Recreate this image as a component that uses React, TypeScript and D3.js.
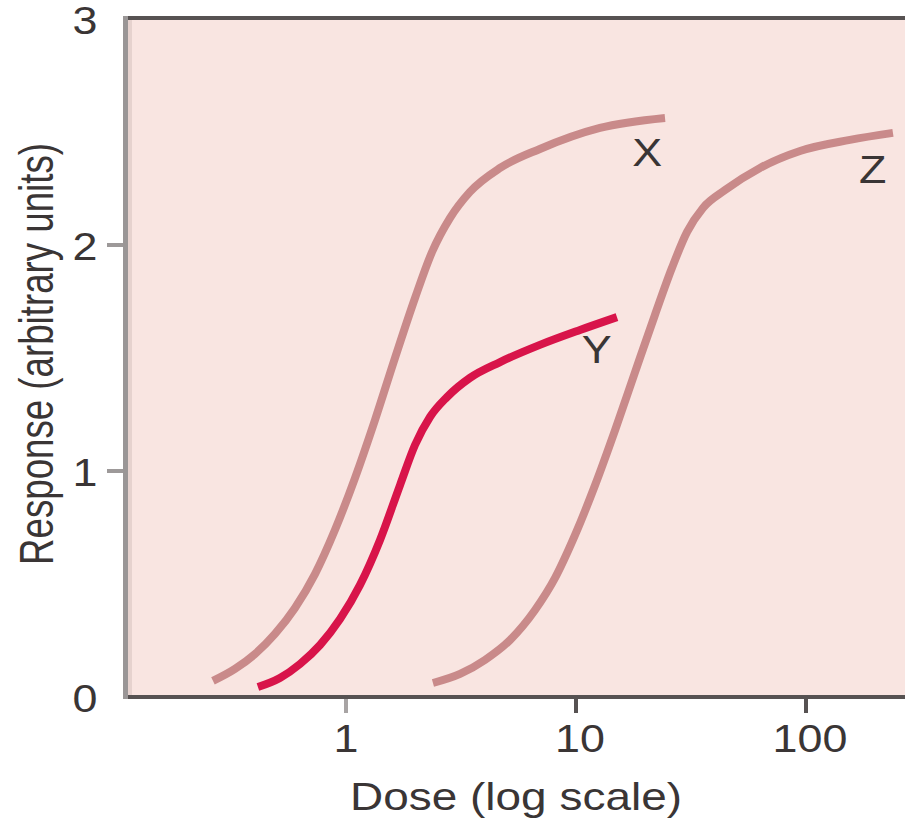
import React from "react";
import * as d3 from "d3";

// ---- data ----
const xTickValues = [1, 10, 100];
const xTickLabels = ["1", "10", "100"];
const yTickValues = [0, 1, 2, 3];
const yTickLabels = ["0", "1", "2", "3"];

const curveXDose = [0.264, 0.329, 0.402, 0.491, 0.6, 0.733, 0.895, 1.094, 1.337, 1.633, 1.995, 2.366, 2.831, 3.459, 4.677, 6.966, 12.71, 24.38];
const curveXResp = [0.071, 0.124, 0.19, 0.279, 0.394, 0.544, 0.739, 0.969, 1.226, 1.5, 1.765, 1.969, 2.119, 2.235, 2.341, 2.425, 2.518, 2.562];

const curveYDose = [0.414, 0.516, 0.631, 0.771, 0.942, 1.151, 1.406, 1.718, 1.995, 2.318, 2.748, 3.459, 4.677, 6.966, 10.41, 15.07];
const curveYResp = [0.044, 0.084, 0.146, 0.23, 0.345, 0.496, 0.695, 0.938, 1.115, 1.239, 1.327, 1.412, 1.482, 1.558, 1.624, 1.681];

const curveZDose = [2.388, 3.133, 4.018, 5.164, 6.637, 8.11, 9.908, 12.11, 14.79, 18.07, 22.03, 26.12, 30.41, 35.65, 44.46, 63.1, 94.2, 155.2, 238.8];
const curveZResp = [0.062, 0.102, 0.164, 0.252, 0.385, 0.527, 0.717, 0.938, 1.181, 1.438, 1.69, 1.898, 2.058, 2.164, 2.243, 2.341, 2.416, 2.465, 2.496];

const curveNames = ["X", "Y", "Z"];
const labelDose = [20.4, 12.3, 195];
const labelResp = [2.35, 1.478, 2.274];

const xAxisTitle = "Dose (log scale)";
const yAxisTitle = "Response (arbitrary units)";

// ---- layout / style ----
const W = 905;
const H = 819;
const PLOT_LEFT = 126;
const PLOT_RIGHT = 905;
const PLOT_TOP = 18;
const PLOT_BOTTOM = 697;
const FONT = "'Liberation Sans', Arial, Helvetica, sans-serif";
const TEXT = "#3a3535";
const BG = "#f9e5e1";
const MUTED = "#c98a8a";
const RED = "#d8144a";

export default function App() {
  const x = d3.scaleLog().domain([1, 100]).range([346, 806]);
  const y = d3.scaleLinear().domain([0, 3]).range([697, 19]);

  const line = d3
    .line<[number, number]>()
    .x((d) => x(d[0]))
    .y((d) => y(d[1]))
    .curve(d3.curveMonotoneX);

  const series = [
    { dose: curveXDose, resp: curveXResp, color: MUTED },
    { dose: curveZDose, resp: curveZResp, color: MUTED },
    { dose: curveYDose, resp: curveYResp, color: RED },
  ];

  return (
    <div style={{ position: "absolute", left: 0, top: 0 }}>
      <svg width={W} height={H} style={{ display: "block" }}>
        <rect x={0} y={0} width={W} height={H} fill="#ffffff" />
        {/* plot background */}
        <rect x={PLOT_LEFT} y={PLOT_TOP} width={PLOT_RIGHT - PLOT_LEFT} height={PLOT_BOTTOM - PLOT_TOP} fill={BG} />
        {/* soft inner edge next to left axis */}
        <rect x={128} y={20} width={4} height={675} fill="#d9c4c2" opacity={0.6} />

        {/* curves */}
        {series.map((s, i) => (
          <path
            key={i}
            d={line(s.dose.map((d, j) => [d, s.resp[j]] as [number, number])) || ""}
            fill="none"
            stroke={s.color}
            strokeWidth={8}
            strokeLinecap="butt"
            strokeLinejoin="round"
          />
        ))}

        {/* frame */}
        <line x1={128} x2={PLOT_RIGHT} y1={18} y2={18} stroke="#575252" strokeWidth={4} />
        <line x1={123} x2={PLOT_RIGHT} y1={697} y2={697} stroke="#575252" strokeWidth={4} />
        <line x1={125.5} x2={125.5} y1={16} y2={699} stroke="#9a9696" strokeWidth={5} />

        {/* y ticks */}
        {yTickValues.map((v, i) => (
          <g key={"yt" + i}>
            {v > 0 && v < 3 && (
              <line x1={107} x2={123} y1={y(v)} y2={y(v)} stroke="#9d9999" strokeWidth={4} />
            )}
            <text
              transform={`translate(85,${y(v) + 15}) scale(1.18,1)`}
              textAnchor="middle"
              fontFamily={FONT}
              fontSize={38}
              fill={TEXT}
            >
              {yTickLabels[i]}
            </text>
          </g>
        ))}

        {/* x ticks */}
        {xTickValues.map((v, i) => (
          <g key={"xt" + i}>
            <line
              x1={x(v)}
              x2={x(v)}
              y1={699}
              y2={713}
              stroke={i === 0 ? "#a8a4a4" : "#575252"}
              strokeWidth={4}
            />
            <text
              transform={`translate(${x(v) + (i === 0 ? 0 : 4)},752) scale(1.18,1)`}
              textAnchor="middle"
              fontFamily={FONT}
              fontSize={38}
              fill={TEXT}
            >
              {xTickLabels[i]}
            </text>
          </g>
        ))}

        {/* curve labels */}
        {curveNames.map((n, i) => (
          <text
            key={"cl" + i}
            transform={`translate(${x(labelDose[i])},${y(labelResp[i])}) scale(1.15,1)`}
            textAnchor="middle"
            fontFamily={FONT}
            fontSize={39}
            fill={TEXT}
          >
            {n}
          </text>
        ))}

        {/* axis titles */}
        <text
          x={516}
          y={810}
          textAnchor="middle"
          fontFamily={FONT}
          fontSize={39}
          fill={TEXT}
          textLength={332}
          lengthAdjust="spacingAndGlyphs"
        >
          {xAxisTitle}
        </text>
        <text
          transform="translate(53,354) rotate(-90)"
          textAnchor="middle"
          fontFamily={FONT}
          fontSize={48}
          fill={TEXT}
          textLength={422}
          lengthAdjust="spacingAndGlyphs"
        >
          {yAxisTitle}
        </text>
      </svg>
    </div>
  );
}
